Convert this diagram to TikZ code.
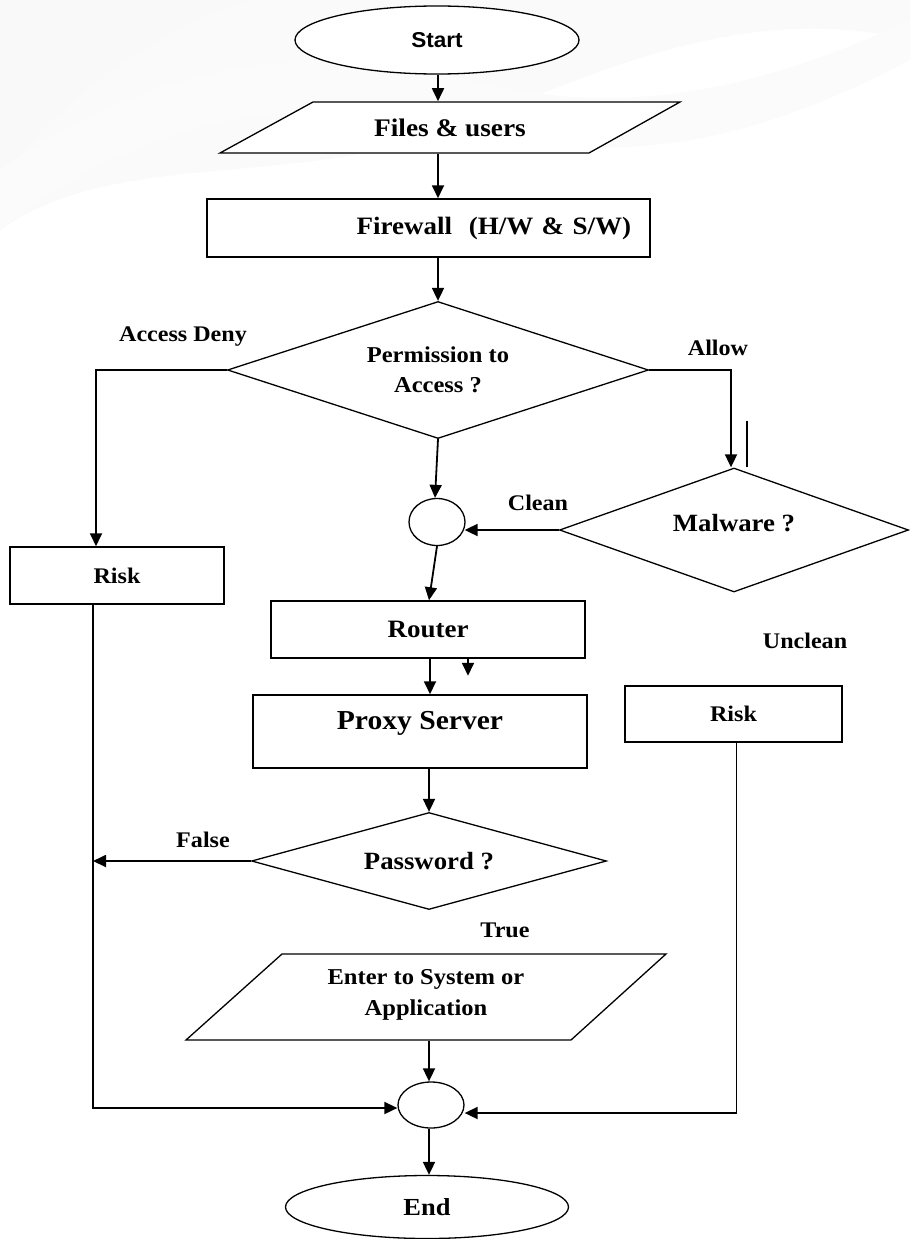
\documentclass[tikz,border=0pt]{standalone}
\usepackage{fontspec}
\setmainfont{Liberation Serif}[FakeStretch=1.08]
\newfontfamily\startfont{Liberation Sans}[FakeStretch=1.05]
\usetikzlibrary{shapes.geometric,arrows.meta,calc}
\begin{document}
\begin{tikzpicture}[x=1pt,y=-1pt,
  line width=1.6pt,
  fz/.style={font=\fontsize{#1}{30}\selectfont\bfseries},
  lbl/.style={fz=22.3},
  box/.style={draw, rectangle, line width=1.5pt, inner sep=0pt},
  oval/.style={draw, ellipse, line width=1.3pt, inner sep=0pt},
  dia/.style={draw, diamond, line width=1.3pt, inner sep=0pt, align=center},
  arr/.style={-{Triangle[length=13pt,width=12pt]}, line width=1.8pt},
  bgwave/.style={fill=black!#1, draw=none}
]
\useasboundingbox (0,0) rectangle (910,1239);
% faint background swooshes
\fill[bgwave=2] (0,0) -- (910,0) -- (910,40) .. controls (700,-10) and (520,120) .. (380,150) .. controls (240,180) and (100,160) .. (0,230) -- cycle;
\fill[bgwave=2.5] (0,0) -- (250,0) .. controls (150,30) and (60,100) .. (0,180) -- cycle;
\fill[bgwave=1.5] (0,170) .. controls (150,60) and (320,40) .. (470,80) .. controls (620,120) and (760,90) .. (910,20) -- (910,60) .. controls (760,140) and (620,170) .. (470,130) .. controls (320,90) and (150,110) .. (0,230) -- cycle;

% nodes
\node[oval, fill=white, minimum width=284pt, minimum height=68pt] (start) at (437,40) {\startfont\fontsize{21.5}{24}\selectfont\bfseries Start};

\node[minimum width=367pt, minimum height=51pt, inner sep=0pt] (files) at (450,127.5) {};
\draw[line width=1.3pt, fill=white] (313,102) -- (680,102) -- (589,153) -- (220,153) -- cycle;
\node[fz=25.3] (filestext) at (files) {Files \& users};

\node[box, fill=white, minimum height=58pt, text width=405pt, inner xsep=19pt, align=right, fz=25] (firewall) at (428.5,228) {Firewall\ \ (H/W \& S/W)};

\node[dia, minimum width=421pt, minimum height=137pt, aspect=3, fz=22.7] (perm) at (438,370) {Permission to\\Access ?};

\node[dia, minimum width=349pt, minimum height=124pt, aspect=2.8, fz=24.8] (malware) at (734,530) {Malware ?\\[-15pt]};

\node[oval, minimum width=56pt, minimum height=47pt] (jn1) at (437,522) {};

\node[box, minimum width=214pt, minimum height=57pt, lbl] (risk1) at (117,575.5) {Risk};

\node[box, minimum width=314pt, minimum height=57pt, fz=25] (router) at (428,629.5) {Router};

\node[box, minimum width=334pt, minimum height=73pt] (proxy) at (420,731.5) {};
\node[fz=27.4] (proxytext) at ([yshift=8pt]proxy.center) {Proxy Server};

\node[box, minimum width=217pt, minimum height=56pt, lbl] (risk2) at (733.5,714) {Risk};

\node[dia, minimum width=355pt, minimum height=97pt, aspect=3.6, fz=24.8] (pw) at (429,861) {Password ?};

\node[minimum width=384pt, minimum height=86pt, inner sep=0pt] (enter) at (426,997) {};
\draw[line width=1.3pt] (282,954) -- (666,954) -- (571,1040) -- (186,1040) -- cycle;
\node[fz=22.7, align=center] (entertext) at (426,995) {Enter to System or\\[1pt]Application};

\node[oval, minimum width=66pt, minimum height=46pt] (jn2) at (431,1105) {};

\node[oval, minimum width=283pt, minimum height=63pt, fz=24.5] (end) at (427,1207) {End};

% labels
\node[lbl] (lbldeny) at (183,337) {Access Deny};
\node[lbl] (lblallow) at (718,348) {Allow};
\node[lbl] (lblclean) at (538,503) {Clean};
\node[lbl] (lblunclean) at (805,641) {Unclean};
\node[lbl] (lblfalse) at (203,840) {False};
\node[lbl] (lbltrue) at (505,930) {True};

% helper coordinates
\coordinate (lx) at ([xshift=-24pt]risk1.south);
\coordinate (cx) at (perm.north);

% connectors
\draw[arr] (start.south -| cx) -- (files.north -| cx);
\draw[arr] (files.south -| cx) -- (firewall.north -| cx);
\draw[arr] (firewall.south -| cx) -- (perm.north);
\draw[arr] (perm.west) -| ([xshift=-21pt]risk1.north);
\draw[arr] (perm.east) -| ([xshift=-3pt]malware.north);
\draw ([xshift=13pt]malware.north) -- ++(0,-46);
\draw[arr] (perm.south) -- ([xshift=-2pt]jn1.north);
\draw[arr] (malware.west) -- ([xshift=-1pt]jn1.east |- malware.west);
\draw[arr] (jn1.south) -- ([xshift=1pt]router.north);
\draw[arr] ([xshift=2pt]router.south) -- ([xshift=2pt]router.south |- proxy.north);
\draw[arr] ([xshift=40pt]router.south) -- ++(0,17);
\draw[arr] (proxy.south -| pw.north) -- (pw.north);
\draw[arr] (pw.west) -- (pw.west -| lx);
\draw[arr] (lx) |- ([yshift=-3pt]jn2.west);
\draw[arr] ([xshift=3pt]risk2.south) |- ([yshift=-8pt]jn2.east);
\draw[arr] (enter.south -| pw.north) -- (jn2.north -| pw.north);
\draw[arr] (jn2.south -| pw.north) -- (end.north -| pw.north);
\end{tikzpicture}
\end{document}
